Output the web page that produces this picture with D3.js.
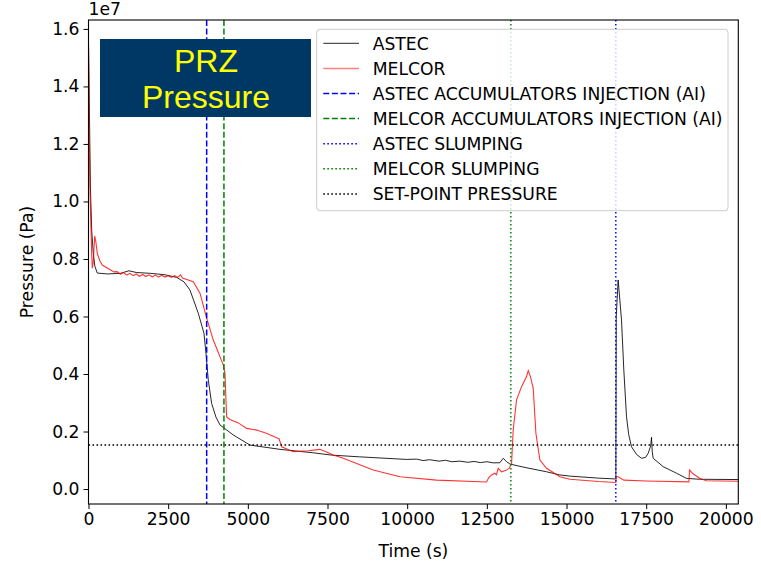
<!DOCTYPE html>
<html>
<head>
<meta charset="utf-8">
<script src="https://cdn.jsdelivr.net/npm/d3@7"></script>
<style>
  body { margin: 0; background: #fff; }
  svg { display: block; }
</style>
</head>
<body>
<svg id="chart" width="761" height="563"></svg>
<script>
// ---- data (time in s, pressure in MPa) ----
const astecT = [0, 30, 60, 100, 150, 200, 276, 600, 1000, 1270, 1500, 1950, 2400, 2767, 3000, 3184, 3445, 3623, 3686, 3759, 3864, 4000, 4125, 4543, 5066, 6008, 7053, 7629, 8500, 9982, 10300, 10500, 10700, 11000, 11200, 11400, 11654, 11900, 12100, 12300, 12500, 12700, 12909, 13013, 13120, 13223, 13700, 14374, 14792, 15105, 16000, 16548, 16560, 16620, 16725, 16798, 16882, 16950, 17039, 17200, 17353, 17480, 17561, 17640, 17667, 17690, 17719, 18032, 18452, 18556, 18766, 19183, 20390];
const astecP = [15.5, 13.0, 10.5, 9.0, 8.2, 7.75, 7.51, 7.48, 7.5, 7.59, 7.53, 7.5, 7.45, 7.36, 7.2, 6.92, 6.11, 5.42, 4.72, 3.79, 2.98, 2.5, 2.23, 1.88, 1.53, 1.38, 1.26, 1.18, 1.12, 1.03, 1.04, 0.99, 1.02, 0.97, 1.0, 0.95, 0.97, 0.93, 0.96, 0.92, 0.95, 0.91, 0.915, 1.07, 0.95, 0.87, 0.75, 0.60, 0.49, 0.45, 0.38, 0.35, 6.0, 7.27, 5.88, 4.14, 2.51, 1.9, 1.47, 1.2, 1.07, 1.1, 1.24, 1.5, 1.80, 1.3, 1.07, 0.78, 0.55, 0.49, 0.37, 0.34, 0.33];

const melcorT = [0, 20, 45, 69, 100, 119, 150, 194, 230, 276, 350, 433, 696, 800, 900, 1000, 1100, 1200, 1300, 1400, 1500, 1600, 1700, 1800, 1900, 2000, 2100, 2200, 2300, 2400, 2500, 2600, 2700, 2800, 2892, 2950, 3288, 3498, 3708, 3916, 4230, 4282, 4310, 4335, 4440, 4700, 4962, 5276, 5600, 5904, 5980, 6061, 6425, 6900, 7262, 7450, 7680, 7994, 8935, 9772, 10923, 12491, 12560, 12648, 12750, 12800, 12856, 12961, 13100, 13200, 13276, 13326, 13432, 13589, 13746, 13798, 13870, 13955, 14039, 14164, 14374, 14792, 15105, 16000, 16548, 16565, 16620, 16800, 17500, 18840, 18860, 18950, 19183, 19393, 20390];
const melcorP = [15.5, 12.5, 10.5, 9.4, 8.2, 7.68, 7.9, 8.8, 8.6, 8.2, 7.95, 7.79, 7.62, 7.55, 7.56, 7.47, 7.53, 7.44, 7.50, 7.42, 7.48, 7.40, 7.46, 7.39, 7.45, 7.38, 7.44, 7.37, 7.43, 7.37, 7.42, 7.36, 7.42, 7.36, 7.45, 7.34, 7.21, 6.81, 5.94, 5.18, 4.31, 4.02, 3.2, 2.51, 2.42, 2.3, 2.11, 2.05, 1.93, 1.78, 1.75, 1.47, 1.30, 1.33, 1.38, 1.3, 1.18, 1.07, 0.66, 0.43, 0.31, 0.245, 0.4, 0.49, 0.55, 0.5, 0.72, 0.60, 0.65, 0.72, 0.89, 2.05, 3.10, 3.56, 3.91, 4.12, 3.9, 3.50, 1.94, 1.01, 0.72, 0.43, 0.34, 0.26, 0.23, 0.43, 0.43, 0.31, 0.28, 0.25, 0.66, 0.55, 0.37, 0.29, 0.27];

const astecAI = 3708, melcorAI = 4250, astecSlump = 16546, melcorSlump = 13253;
const setPoint = 1.53; // MPa

const xTicks = [0, 2500, 5000, 7500, 10000, 12500, 15000, 17500, 20000];
const yTicks = [0, 0.2, 0.4, 0.6, 0.8, 1.0, 1.2, 1.4, 1.6]; // x 1e7 Pa

const legendLabels = ["ASTEC", "MELCOR", "ASTEC ACCUMULATORS INJECTION (AI)", "MELCOR ACCUMULATORS INJECTION (AI)", "ASTEC SLUMPING", "MELCOR SLUMPING", "SET-POINT PRESSURE"];

// ---- layout ----
const FONT = "DejaVu Sans, sans-serif";
const FS = 17.2;
const svg = d3.select("#chart");
const L = 88.5, R = 738.3, T = 20, B = 504;
const x = d3.scaleLinear().domain([0, 20390]).range([L, R]);
const y = d3.scaleLinear().domain([-0.052e7, 1.631e7]).range([B, T]);

svg.append("clipPath").attr("id", "clip").append("rect")
  .attr("x", L).attr("y", T).attr("width", R - L).attr("height", B - T);

const plot = svg.append("g").attr("clip-path", "url(#clip)");

const line = d3.line().x(d => x(d[0])).y(d => y(d[1] * 1e6));

const styles = [
  {color: "#000", dash: null, w: 1.0, op: 0.85},
  {color: "red", dash: null, w: 1.1, op: 0.8},
  {color: "blue", dash: "6,2.6", w: 1.5, op: 1},
  {color: "green", dash: "6,2.6", w: 1.5, op: 1},
  {color: "blue", dash: "1.6,2.4", w: 1.5, op: 1},
  {color: "green", dash: "1.6,2.4", w: 1.5, op: 1},
  {color: "#000", dash: "1.6,2.4", w: 1.5, op: 1}
];

plot.append("path").datum(astecT.map((t, i) => [t, astecP[i]]))
  .attr("d", line).attr("fill", "none").attr("stroke", styles[0].color)
  .attr("stroke-width", styles[0].w).attr("stroke-opacity", styles[0].op);
plot.append("path").datum(melcorT.map((t, i) => [t, melcorP[i]]))
  .attr("d", line).attr("fill", "none").attr("stroke", styles[1].color)
  .attr("stroke-width", styles[1].w).attr("stroke-opacity", styles[1].op);

const vlines = [[astecAI, styles[2]], [melcorAI, styles[3]], [astecSlump, styles[4]], [melcorSlump, styles[5]]];
vlines.forEach(([t, s]) => {
  plot.append("line").attr("x1", x(t)).attr("x2", x(t)).attr("y1", T).attr("y2", B)
    .attr("stroke", s.color).attr("stroke-width", s.w).attr("stroke-dasharray", s.dash);
});
plot.append("line").attr("x1", L).attr("x2", R).attr("y1", y(setPoint * 1e6)).attr("y2", y(setPoint * 1e6))
  .attr("stroke", styles[6].color).attr("stroke-width", styles[6].w).attr("stroke-dasharray", styles[6].dash);

// ---- axes ----
const xAxis = d3.axisBottom(x).tickValues(xTicks).tickSize(5).tickPadding(4).tickFormat(d3.format("d"));
const yAxis = d3.axisLeft(y).tickValues(yTicks.map(v => v * 1e7)).tickSize(5).tickPadding(4).tickFormat(d => (d / 1e7).toFixed(1));

const gx = svg.append("g").attr("transform", `translate(0,${B})`).call(xAxis);
const gy = svg.append("g").attr("transform", `translate(${L},0)`).call(yAxis);
[gx, gy].forEach(g => {
  g.attr("font-family", null).attr("font-size", null);
  g.select(".domain").remove();
  g.selectAll("text").style("font-family", FONT).style("font-size", FS + "px").attr("fill", "#000");
  g.selectAll("line").attr("stroke", "#000").attr("stroke-width", 1);
});

svg.append("rect").attr("x", L).attr("y", T).attr("width", R - L).attr("height", B - T)
  .attr("fill", "none").attr("stroke", "#000").attr("stroke-width", 1.1);

const txt = (sel) => sel.style("font-family", FONT).style("font-size", FS + "px").attr("fill", "#000");
txt(svg.append("text").attr("x", L).attr("y", 15).text("1e7"));
txt(svg.append("text").attr("x", (L + R) / 2).attr("y", 557).attr("text-anchor", "middle").text("Time (s)"));
txt(svg.append("text").attr("transform", `translate(33,${(T + B) / 2}) rotate(-90)`).attr("text-anchor", "middle")
  .text("Pressure (Pa)"));

// ---- title box ----
const TF = "'Liberation Sans', Arial, sans-serif";
svg.append("rect").attr("x", 100).attr("y", 39).attr("width", 211).attr("height", 78).attr("fill", "#003865");
svg.append("text").attr("x", 206).attr("y", 72).attr("text-anchor", "middle").attr("fill", "#ffff00")
  .style("font-family", TF).style("font-size", "32px").text("PRZ");
svg.append("text").attr("x", 206).attr("y", 108).attr("text-anchor", "middle").attr("fill", "#ffff00")
  .style("font-family", TF).style("font-size", "32px").text("Pressure");

// ---- legend ----
const lg = svg.append("g");
lg.append("rect").attr("x", 316.7).attr("y", 29.3).attr("width", 411.3).attr("height", 181.4).attr("rx", 3)
  .attr("fill", "#fff").attr("fill-opacity", 0.8).attr("stroke", "#cccccc").attr("stroke-width", 1);
legendLabels.forEach((lab, i) => {
  const cy = 43.3 + i * 25.1;
  const s = styles[i];
  lg.append("line").attr("x1", 323.3).attr("x2", 359).attr("y1", cy).attr("y2", cy)
    .attr("stroke", s.color).attr("stroke-width", i === 1 ? 1.5 : s.w).attr("stroke-opacity", i === 1 ? 0.5 : s.op)
    .attr("stroke-dasharray", s.dash);
  txt(lg.append("text").attr("x", 372.7).attr("y", cy + 6.3).text(lab));
});
</script>
</body>
</html>
